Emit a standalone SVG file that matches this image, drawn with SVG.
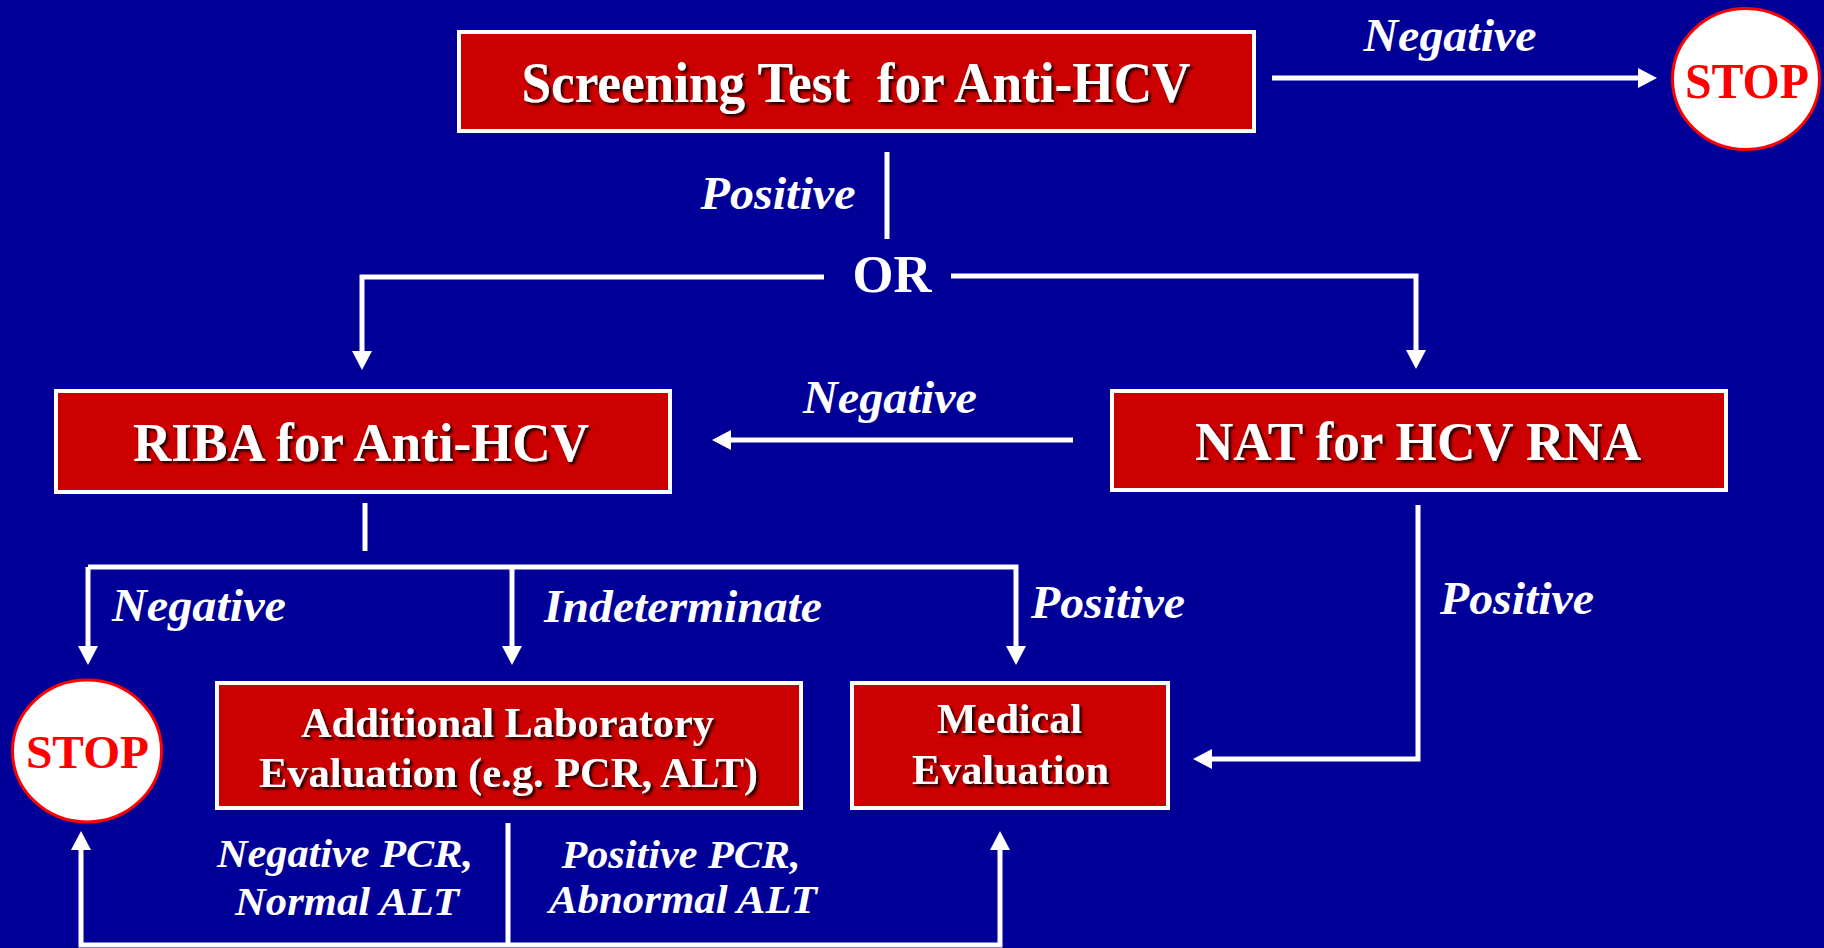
<svg xmlns="http://www.w3.org/2000/svg" width="1824" height="948" viewBox="0 0 1824 948">
<defs>
<style>
.box{fill:#CC0000;stroke:#FFFFFF;stroke-width:4}
.bt{font-family:"Liberation Serif","Times New Roman",serif;font-weight:bold;fill:#FFFFFF;text-anchor:middle;filter:url(#sh)}
.lb{font-family:"Liberation Serif","Times New Roman",serif;font-weight:bold;font-style:italic;fill:#FFFFFF;text-anchor:middle}
.or{font-family:"Liberation Serif","Times New Roman",serif;font-weight:bold;fill:#FFFFFF;text-anchor:middle}
.stop{fill:#FFFFFF;stroke:#FF0000;stroke-width:3}
.st{font-family:"Liberation Serif","Times New Roman",serif;font-weight:bold;fill:#FF0000;text-anchor:middle}
.c{fill:none;stroke:#FFFFFF;stroke-width:5}
</style>
<filter id="sh" x="-5%" y="-20%" width="110%" height="140%">
<feDropShadow dx="2.5" dy="2.5" stdDeviation="0.8" flood-color="#000000" flood-opacity="0.85"/>
</filter>
<marker id="ah" markerUnits="userSpaceOnUse" markerWidth="20" markerHeight="20" refX="13" refY="10" orient="auto">
<path d="M0,0 L19,10 L0,20 Z" fill="#FFFFFF"/>
</marker>
</defs>
<rect width="1824" height="948" fill="#000099"/>

<g id="connectors">
<path class="c" d="M1272 78 H1651" marker-end="url(#ah)"/>
<path class="c" d="M887 152 V239"/>
<path class="c" d="M824 277 H362 V364" marker-end="url(#ah)"/>
<path class="c" d="M951 276 H1416 V363" marker-end="url(#ah)"/>
<path class="c" d="M1073 440 H718" marker-end="url(#ah)"/>
<path class="c" d="M365 503 V551"/>
<path class="c" d="M88 567 H1016 V659" marker-end="url(#ah)"/>
<path class="c" d="M88 567 V659" marker-end="url(#ah)"/>
<path class="c" d="M512 567 V659" marker-end="url(#ah)"/>
<path class="c" d="M1418 505 V759 H1199" marker-end="url(#ah)"/>
<path class="c" d="M508 823 V945"/>
<path class="c" d="M508 945 H81 V837" marker-end="url(#ah)"/>
<path class="c" d="M508 945 H1000 V837" marker-end="url(#ah)"/>
<text class="lb" x="1450" y="51" font-size="46" textLength="173" lengthAdjust="spacingAndGlyphs">Negative</text>
<text class="lb" x="778" y="209" font-size="46" textLength="155" lengthAdjust="spacingAndGlyphs">Positive</text>
<text class="or" x="892" y="292" font-size="53" textLength="79" lengthAdjust="spacingAndGlyphs">OR</text>
<text class="lb" x="890" y="413" font-size="46" textLength="174" lengthAdjust="spacingAndGlyphs">Negative</text>
<text class="lb" x="199" y="621" font-size="46" textLength="174" lengthAdjust="spacingAndGlyphs">Negative</text>
<text class="lb" x="683" y="622" font-size="46" textLength="278" lengthAdjust="spacingAndGlyphs">Indeterminate</text>
<text class="lb" x="1108" y="618" font-size="46" textLength="154" lengthAdjust="spacingAndGlyphs">Positive</text>
<text class="lb" x="1517" y="614" font-size="46" textLength="154" lengthAdjust="spacingAndGlyphs">Positive</text>
<text class="lb" x="345" y="867" font-size="41" textLength="256" lengthAdjust="spacingAndGlyphs">Negative PCR,</text>
<text class="lb" x="347" y="915" font-size="41" textLength="224" lengthAdjust="spacingAndGlyphs">Normal ALT</text>
<text class="lb" x="681" y="868" font-size="41" textLength="239" lengthAdjust="spacingAndGlyphs">Positive PCR,</text>
<text class="lb" x="683" y="913" font-size="41" textLength="268" lengthAdjust="spacingAndGlyphs">Abnormal ALT</text>
</g>

<g id="screening">
<rect class="box" x="459" y="32" width="795" height="99"/>
<text class="bt" x="856" y="102" font-size="57" textLength="669" lengthAdjust="spacingAndGlyphs" xml:space="preserve">Screening Test  for Anti-HCV</text>
</g>

<g id="stop-top">
<ellipse class="stop" cx="1746" cy="79" rx="73.5" ry="70.5"/>
<text class="st" x="1747" y="98" font-size="50" textLength="124" lengthAdjust="spacingAndGlyphs">STOP</text>
</g>

<g id="riba">
<rect class="box" x="56" y="391" width="614" height="101"/>
<text class="bt" x="361" y="461" font-size="55" textLength="456" lengthAdjust="spacingAndGlyphs">RIBA for Anti-HCV</text>
</g>

<g id="nat">
<rect class="box" x="1112" y="391" width="614" height="99"/>
<text class="bt" x="1418" y="460" font-size="55" textLength="446" lengthAdjust="spacingAndGlyphs">NAT for HCV RNA</text>
</g>

<g id="stop-bottom">
<ellipse class="stop" cx="87" cy="751" rx="74.5" ry="71"/>
<text class="st" x="87.5" y="768" font-size="47" textLength="123" lengthAdjust="spacingAndGlyphs">STOP</text>
</g>

<g id="additional">
<rect class="box" x="217" y="683" width="584" height="125"/>
<text class="bt" x="507.5" y="737" font-size="43" textLength="413" lengthAdjust="spacingAndGlyphs">Additional Laboratory</text>
<text class="bt" x="508.5" y="787" font-size="43" textLength="499" lengthAdjust="spacingAndGlyphs">Evaluation (e.g. PCR, ALT)</text>
</g>

<g id="medical">
<rect class="box" x="852" y="683" width="316" height="125"/>
<text class="bt" x="1009.5" y="733" font-size="43" textLength="145" lengthAdjust="spacingAndGlyphs">Medical</text>
<text class="bt" x="1010.5" y="784" font-size="43" textLength="197" lengthAdjust="spacingAndGlyphs">Evaluation</text>
</g>
</svg>
